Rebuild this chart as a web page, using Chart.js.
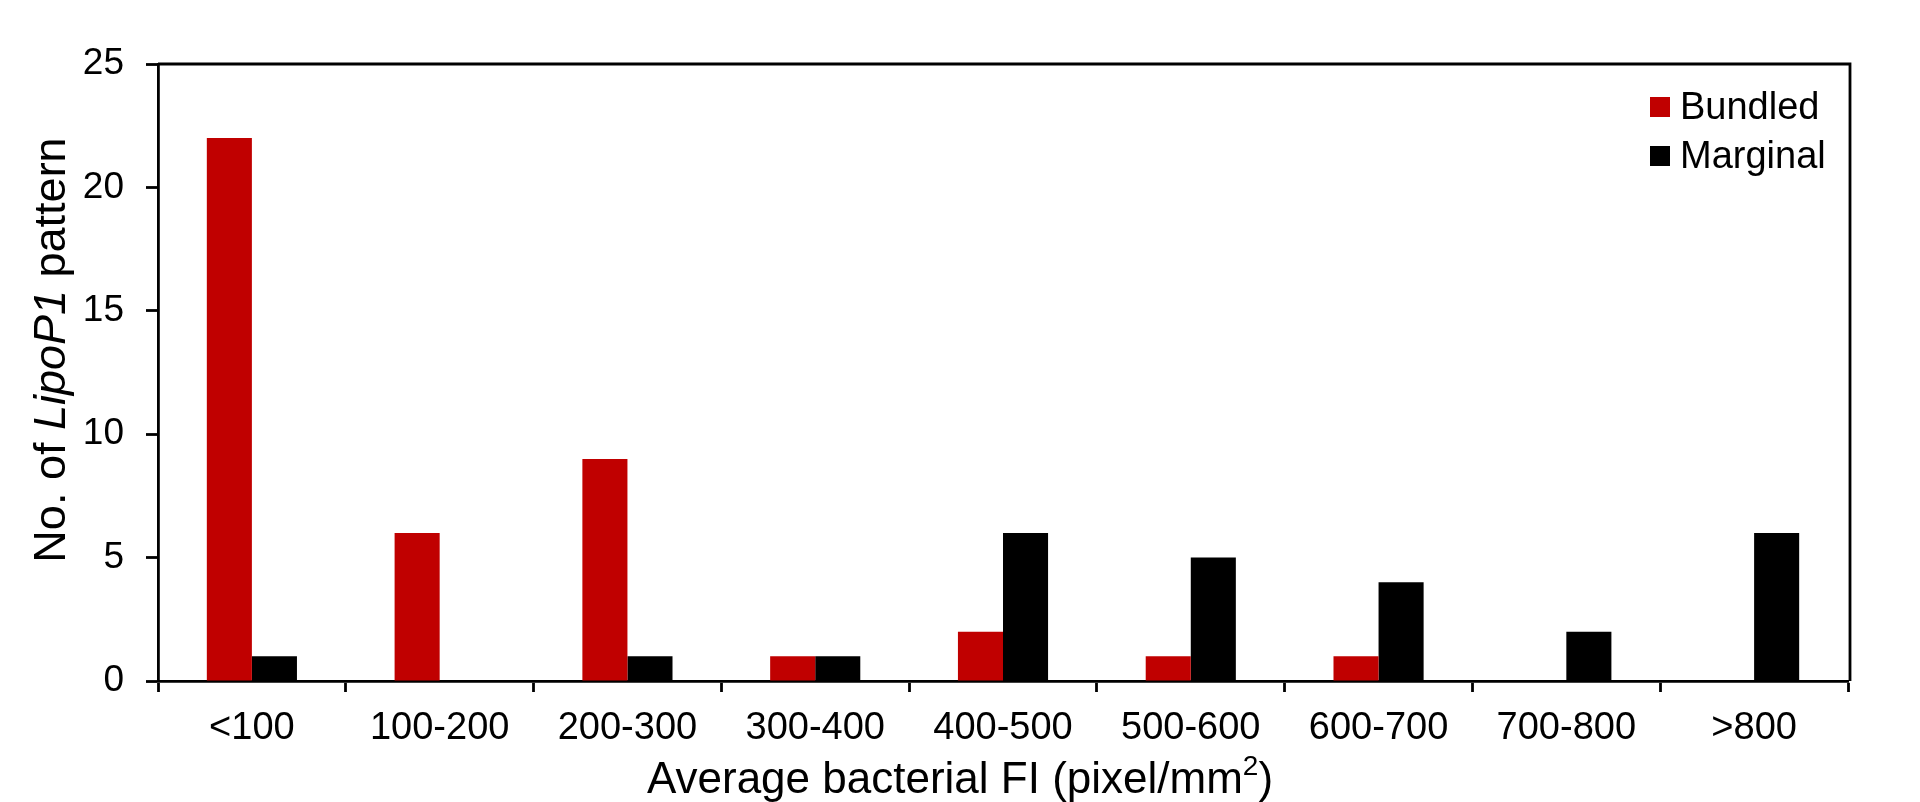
<html>
    <head>
        <script src="https://cdn.jsdelivr.net/npm/chart.js@4/dist/chart.umd.min.js"></script>
        <style>
            body { margin: 0; background: #ffffff; }
            #wrap { width: 1920px; height: 802px; position: relative; }
        </style>
    </head>

    <body>
        <div id="wrap"><canvas id="plot"></canvas></div>

        <script>
            // data
            const categories = ['<100', '100-200', '200-300', '300-400', '400-500', '500-600', '600-700', '700-800', '>800'];
            const bundled = [22, 6, 9, 1, 2, 1, 1, 0, 0];
            const marginal = [1, 0, 1, 1, 6, 5, 4, 2, 6];
            const yTicks = [0, 5, 10, 15, 20, 25];

            const FONT = '"Liberation Sans", Arial, sans-serif';
            const LINE = 2.8;

            // top + right frame, axis titles, legend
            const decorations = {
                id: 'decorations',
                afterDraw(chart) {
                    const ctx = chart.ctx;
                    const a = chart.chartArea;
                    ctx.save();

                    // frame
                    ctx.strokeStyle = '#000';
                    ctx.lineWidth = LINE;
                    ctx.beginPath();
                    ctx.moveTo(a.left, a.top);
                    ctx.lineTo(a.right + 2, a.top);
                    ctx.lineTo(a.right + 2, a.bottom);
                    ctx.stroke();

                    ctx.fillStyle = '#000';

                    // y title with italic gene name
                    ctx.save();
                    ctx.translate(65, 350);
                    ctx.rotate(-Math.PI / 2);
                    ctx.textBaseline = 'alphabetic';
                    const parts = [
                        ['No. of ', 'normal'],
                        ['LipoP1', 'italic'],
                        [' pattern', 'normal']
                    ];
                    let total = 0;
                    for (const p of parts) {
                        ctx.font = p[1] + ' 45px ' + FONT;
                        total += ctx.measureText(p[0]).width;
                    }
                    let x = -total / 2;
                    for (const p of parts) {
                        ctx.font = p[1] + ' 45px ' + FONT;
                        ctx.fillText(p[0], x, 0);
                        x += ctx.measureText(p[0]).width;
                    }
                    ctx.restore();

                    // x title with superscript
                    ctx.textBaseline = 'alphabetic';
                    ctx.font = '44px ' + FONT;
                    const main = 'Average bacterial FI (pixel/mm';
                    const w1 = ctx.measureText(main).width;
                    ctx.font = '28px ' + FONT;
                    const w2 = ctx.measureText('2').width;
                    ctx.font = '44px ' + FONT;
                    const w3 = ctx.measureText(')').width;
                    let tx = 960 - (w1 + w2 + w3) / 2;
                    ctx.fillText(main, tx, 793);
                    tx += w1;
                    ctx.font = '28px ' + FONT;
                    ctx.fillText('2', tx, 775);
                    tx += w2;
                    ctx.font = '44px ' + FONT;
                    ctx.fillText(')', tx, 793);

                    // legend
                    ctx.font = '38px ' + FONT;
                    chart.data.datasets.forEach((ds, i) => {
                        const y = 97 + i * 49;
                        ctx.fillStyle = ds.backgroundColor;
                        ctx.fillRect(1650, y, 20, 20);
                        ctx.fillStyle = '#000';
                        ctx.fillText(ds.label, 1680, y + 22);
                    });

                    ctx.restore();
                }
            };

            const chart = new Chart(document.getElementById('plot'), {
                type: 'bar',
                data: {
                    labels: categories,
                    datasets: [
                        { label: 'Bundled', data: bundled, backgroundColor: '#C00000', borderWidth: 0 },
                        { label: 'Marginal', data: marginal, backgroundColor: '#000000', borderWidth: 0 }
                    ]
                },
                options: {
                    responsive: true,
                    maintainAspectRatio: false,
                    animation: false,
                    layout: { padding: { left: 0, top: 64, right: 72, bottom: 0 } },
                    plugins: {
                        legend: { display: false },
                        tooltip: { enabled: false }
                    },
                    datasets: {
                        bar: { categoryPercentage: 0.48, barPercentage: 1.0 }
                    },
                    scales: {
                        x: {
                            afterFit(scale) { scale.height = 121; },
                            grid: {
                                offset: true,
                                drawOnChartArea: false,
                                drawTicks: true,
                                tickLength: 11,
                                tickWidth: LINE,
                                tickColor: '#000'
                            },
                            border: { display: true, color: '#000', width: LINE },
                            ticks: {
                                color: '#000',
                                padding: 14,
                                maxRotation: 0,
                                autoSkip: false,
                                font: { family: FONT, size: 38 }
                            }
                        },
                        y: {
                            min: 0,
                            max: 25,
                            afterFit(scale) { scale.width = 158; },
                            afterBuildTicks(scale) { scale.ticks = yTicks.map(v => ({ value: v })); },
                            grid: {
                                drawOnChartArea: false,
                                drawTicks: true,
                                tickLength: 12,
                                tickWidth: LINE,
                                tickColor: '#000'
                            },
                            border: { display: true, color: '#000', width: LINE },
                            ticks: {
                                color: '#000',
                                padding: 22,
                                font: { family: FONT, size: 37 }
                            }
                        }
                    }
                },
                plugins: [decorations]
            });
        </script>
    </body>
</html>
